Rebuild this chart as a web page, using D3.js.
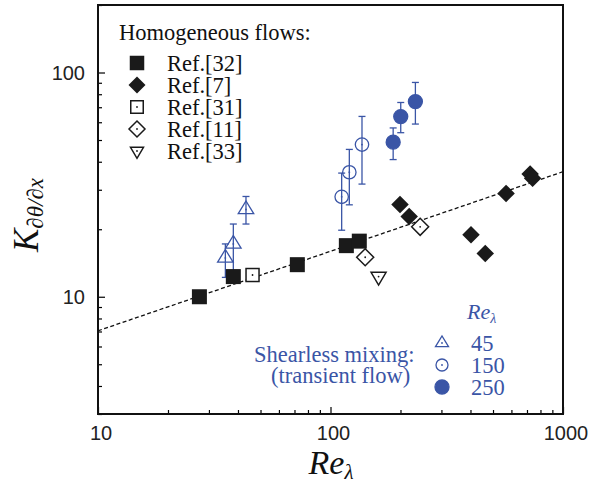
<!DOCTYPE html>
<html><head><meta charset="utf-8">
<script src="https://cdn.jsdelivr.net/npm/d3@7"></script>
<style>html,body{margin:0;padding:0;background:#fff;}svg{display:block;}</style>
</head><body>
<script>
// ---------- data ----------
const xTickLabels = ["10", "100", "1000"];
const xTickValues = [10, 100, 1000];
const yTickLabels = ["10", "100"];
const yTickValues = [10, 100];

const ref32X = [27.3, 38.2, 72, 117, 133];
const ref32Y = [10.0, 12.3, 13.9, 16.9, 17.7];
const ref7X = [199, 218, 402, 463, 569, 722, 740];
const ref7Y = [25.8, 22.8, 18.9, 15.6, 28.9, 35.3, 33.8];
const ref31X = [46.2];
const ref31Y = [12.5];
const ref11X = [141, 243];
const ref11Y = [15.0, 20.5];
const ref33X = [161];
const ref33Y = [12.3];

const sm45X = [35.3, 38.2, 43.3];
const sm45Y = [14.9, 17.2, 24.5];
const sm45Lo = [12.2, 13.1, 21.1];
const sm45Hi = [17.2, 21.1, 28.0];
const sm150X = [111.7, 120.5, 136.6];
const sm150Y = [27.9, 35.9, 47.7];
const sm150Lo = [19.8, 25.7, 31.8];
const sm150Hi = [35.6, 45.4, 63.7];
const sm250X = [186, 200.5, 231.8];
const sm250Y = [48.9, 63.6, 74.2];
const sm250Lo = [40.9, 53.9, 58.9];
const sm250Hi = [56.6, 73.5, 90.3];

const fitX = [10, 1000];
const fitY = [7.05, 36.1];

const legendRefs = ["Ref.[32]", "Ref.[7]", "Ref.[31]", "Ref.[11]", "Ref.[33]"];
const legendRe = ["45", "150", "250"];

// ---------- setup ----------
const W = 590, H = 485;
const L = 98, R = 563, T = 5, B = 414;
const blue = "#3a55a6";
const serif = "'Liberation Serif','Times New Roman',serif";
const sans = "'Liberation Sans',Arial,Helvetica,sans-serif";

const svg = d3.select("body").append("svg").attr("width", W).attr("height", H);
const x = d3.scaleLog().domain([10, 1000]).range([L, R]);
const y = d3.scaleLog().domain([3, 200]).range([B, T]);

// ---------- axes (ticks inward) ----------
const xTicksAll = [];
for (let d = 10; d < 1000; d *= 10) for (let k = 1; k < 10; k++) xTicksAll.push(d * k);
xTicksAll.push(1000);
const yTicksAll = [];
for (let d = 1; d < 1000; d *= 10) for (let k = 1; k < 10; k++) { const v = d * k; if (v >= 3 && v <= 200) yTicksAll.push(v); }

const xAxis = d3.axisBottom(x).tickValues(xTicksAll).tickSize(0).tickFormat("");
const gx = svg.append("g").attr("transform", `translate(0,${B})`).call(xAxis);
gx.select(".domain").remove();
gx.selectAll(".tick line").attr("y2", d => xTickValues.includes(d) ? -7 : -4)
  .attr("stroke", "#000").attr("stroke-width", 1.2);

const yAxis = d3.axisLeft(y).tickValues(yTicksAll).tickSize(0).tickFormat("");
const gy = svg.append("g").attr("transform", `translate(${L},0)`).call(yAxis);
gy.select(".domain").remove();
gy.selectAll(".tick line").attr("x2", d => yTickValues.includes(d) ? 7 : 4)
  .attr("stroke", "#000").attr("stroke-width", 1.2);

// tick labels
svg.append("g").selectAll("text").data(xTickValues).join("text")
  .attr("x", d => x(d) + 3).attr("y", 440).attr("text-anchor", "middle")
  .attr("font-family", sans).attr("font-size", 20).attr("fill", "#222")
  .text((d, i) => xTickLabels[i]);
svg.append("g").selectAll("text").data(yTickValues).join("text")
  .attr("x", 85).attr("y", d => y(d) + 7).attr("text-anchor", "end")
  .attr("font-family", sans).attr("font-size", 20).attr("fill", "#222")
  .text((d, i) => yTickLabels[i]);

// axis titles
const xt = svg.append("text").attr("x", 331).attr("y", 474).attr("text-anchor", "middle")
  .attr("font-family", serif).attr("font-style", "italic").attr("font-size", 34).attr("fill", "#111");
xt.append("tspan").text("Re");
xt.append("tspan").attr("font-size", 21).attr("dy", 5).text("λ");

const yt = svg.append("text").attr("transform", "translate(38,215) rotate(-90)")
  .attr("text-anchor", "middle").attr("font-family", serif).attr("font-style", "italic")
  .attr("font-size", 35).attr("fill", "#111");
yt.append("tspan").text("K");
yt.append("tspan").attr("font-size", 23).attr("dy", 5).text("∂θ/∂x");

// ---------- fit line ----------
svg.append("path")
  .attr("d", d3.line().x(d => x(d[0])).y(d => y(d[1]))(fitX.map((v, i) => [v, fitY[i]])))
  .attr("stroke", "#111").attr("stroke-width", 1.3).attr("stroke-dasharray", "4,2.5").attr("fill", "none");

// ---------- shape helpers ----------
function dot(g, cx, cy, color) {
  g.append("circle").attr("cx", cx).attr("cy", cy).attr("r", 0.9).attr("fill", color);
}
function square(g, cx, cy, s, filled) {
  g.append("rect").attr("x", cx - s / 2).attr("y", cy - s / 2).attr("width", s).attr("height", s)
    .attr("fill", filled ? "#1a1a1a" : "#fff").attr("stroke", "#1a1a1a").attr("stroke-width", filled ? 0 : 1.5);
  if (!filled) dot(g, cx, cy, "#1a1a1a");
}
function diamond(g, cx, cy, s, filled) {
  const h = s / 2;
  g.append("path").attr("d", `M${cx},${cy - h}L${cx + h},${cy}L${cx},${cy + h}L${cx - h},${cy}Z`)
    .attr("fill", filled ? "#1a1a1a" : "#fff").attr("stroke", "#1a1a1a").attr("stroke-width", filled ? 0 : 1.5);
  if (!filled) dot(g, cx, cy, "#1a1a1a");
}
function triDown(g, cx, cy, w, color) {
  const h = w * 0.85;
  g.append("path").attr("d", `M${cx - w / 2},${cy - h / 3}L${cx + w / 2},${cy - h / 3}L${cx},${cy + 2 * h / 3}Z`)
    .attr("fill", "#fff").attr("stroke", color).attr("stroke-width", 1.5);
  dot(g, cx, cy, color);
}
function triUp(g, cx, cy, w, color, fill) {
  const h = w * 0.82;
  g.append("path").attr("d", `M${cx - w / 2},${cy + h / 3}L${cx + w / 2},${cy + h / 3}L${cx},${cy - 2 * h / 3}Z`)
    .attr("fill", fill).attr("stroke", color).attr("stroke-width", 1.3);
  dot(g, cx, cy, color);
}
function circle(g, cx, cy, r, color, filled) {
  g.append("circle").attr("cx", cx).attr("cy", cy).attr("r", r)
    .attr("fill", filled ? color : "none").attr("stroke", color).attr("stroke-width", 1.3);
  if (!filled) dot(g, cx, cy, color);
}
function errbar(g, cx, lo, hi, color) {
  g.append("line").attr("x1", cx).attr("x2", cx).attr("y1", lo).attr("y2", hi).attr("stroke", color).attr("stroke-width", 1.3);
  [lo, hi].forEach(v => g.append("line").attr("x1", cx - 3.5).attr("x2", cx + 3.5).attr("y1", v).attr("y2", v)
    .attr("stroke", color).attr("stroke-width", 1.3));
}

// ---------- shearless mixing (blue) ----------
const gb = svg.append("g");
sm45X.forEach((v, i) => { triUp(gb, x(v), y(sm45Y[i]), 15.5, blue, "none"); });
sm45X.forEach((v, i) => errbar(gb, x(v), y(sm45Lo[i]), y(sm45Hi[i]), blue));
sm150X.forEach((v, i) => { circle(gb, x(v), y(sm150Y[i]), 6.7, blue, false); errbar(gb, x(v), y(sm150Lo[i]), y(sm150Hi[i]), blue); });
sm250X.forEach((v, i) => { errbar(gb, x(v), y(sm250Lo[i]), y(sm250Hi[i]), blue); circle(gb, x(v), y(sm250Y[i]), 7, blue, true); });

// ---------- homogeneous (black) ----------
const gk = svg.append("g");
ref31X.forEach((v, i) => square(gk, x(v), y(ref31Y[i]), 13, false));
ref11X.forEach((v, i) => diamond(gk, x(v), y(ref11Y[i]), 17, false));
ref33X.forEach((v, i) => triDown(gk, x(v), y(ref33Y[i]), 15, "#1a1a1a"));
ref32X.forEach((v, i) => square(gk, x(v), y(ref32Y[i]), 15, true));
ref7X.forEach((v, i) => diamond(gk, x(v), y(ref7Y[i]), 17.5, true));

// ---------- frame ----------
svg.append("rect").attr("x", L).attr("y", T).attr("width", R - L).attr("height", B - T)
  .attr("fill", "none").attr("stroke", "#111").attr("stroke-width", 2);

// ---------- legend: homogeneous ----------
svg.append("text").attr("x", 119).attr("y", 40).attr("font-family", serif).attr("font-size", 22.5)
  .attr("fill", "#111").text("Homogeneous flows:");
const lg = svg.append("g");
const rowY = [63, 85, 107, 129, 151];
legendRefs.forEach((t, i) => {
  lg.append("text").attr("x", 167).attr("y", rowY[i] + 8).attr("font-family", serif).attr("font-size", 22.5)
    .attr("fill", "#111").text(t);
});
square(lg, 137, rowY[0], 14.5, true);
diamond(lg, 137, rowY[1], 17, true);
square(lg, 137, rowY[2], 12.5, false);
diamond(lg, 137, rowY[3], 16, false);
triDown(lg, 137, rowY[4], 13, "#1a1a1a");

// ---------- legend: shearless ----------
svg.append("text").attr("x", 254).attr("y", 362).attr("font-family", serif).attr("font-size", 22.5)
  .attr("fill", blue).text("Shearless mixing:");
svg.append("text").attr("x", 271).attr("y", 383).attr("font-family", serif).attr("font-size", 22.5)
  .attr("fill", blue).text("(transient flow)");
const rt = svg.append("text").attr("x", 467).attr("y", 319).attr("font-family", serif).attr("font-style", "italic")
  .attr("font-size", 22).attr("fill", blue);
rt.append("tspan").text("Re");
rt.append("tspan").attr("font-size", 14).attr("dy", 4).text("λ");
const reRowY = [343, 365, 387];
legendRe.forEach((t, i) => {
  svg.append("text").attr("x", 471).attr("y", reRowY[i] + 8).attr("font-family", serif).attr("font-size", 22.5)
    .attr("fill", blue).text(t);
});
triUp(svg, 442, reRowY[0], 13, blue, "none");
circle(svg, 442, reRowY[1], 6, blue, false);
circle(svg, 442, reRowY[2], 7, blue, true);
</script>
</body></html>
